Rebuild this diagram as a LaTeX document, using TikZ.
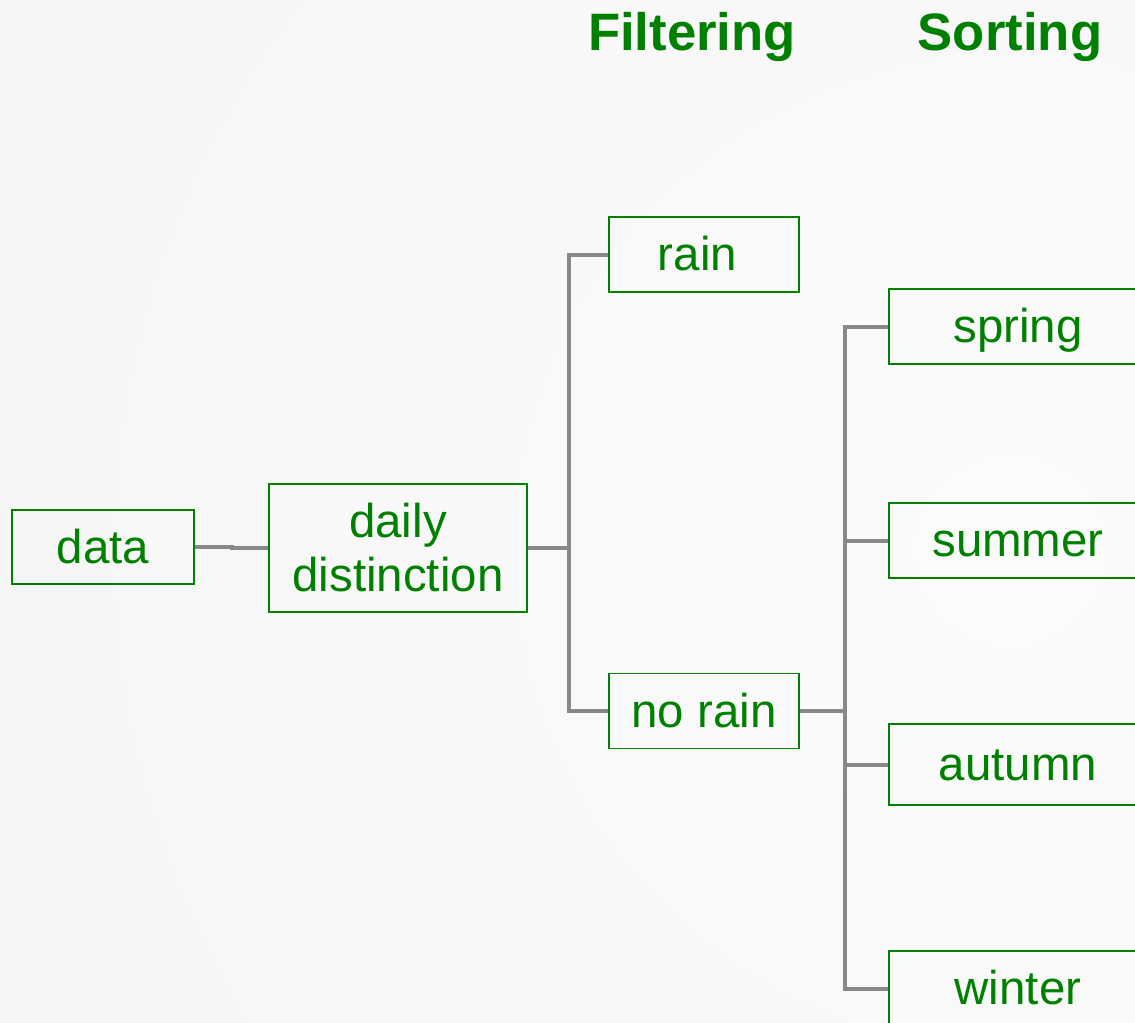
\documentclass[tikz,border=0pt]{standalone}
\usepackage{fontspec}
\setmainfont{Liberation Sans}
\definecolor{lgreen}{HTML}{008000}
\definecolor{lgray}{HTML}{888888}
\definecolor{bgin}{HTML}{FBFBFB}
\definecolor{bgout}{HTML}{F1F1F1}
\tikzset{
  box/.style={draw=lgreen, line width=0.8pt, text=lgreen, inner sep=0pt,
    font=\fontsize{35.6pt}{40.5pt}\selectfont, align=center},
  oneline/.style={text height=32.25pt, text depth=8.25pt},
  conn/.style={draw=lgray, line width=3pt},
  title/.style={text=lgreen, font=\bfseries\fontsize{39.5pt}{45pt}\selectfont,
    anchor=base, inner sep=0pt}
}
\begin{document}
\begin{tikzpicture}[x=0.75pt, y=-0.75pt]
\useasboundingbox (0,0) rectangle (1135,1022);
\clip (0,0) rectangle (1135,1022);
\shade[inner color=bgin, outer color=bgout] (1010,550) circle [radius=2000];

\node[title] (filt) at (692,50) {Filtering};
\node[title] (sort) at (1010,50) {Sorting};

\node[box, oneline, minimum width=136.5pt, minimum height=55.5pt] (data) at (103,547) {data};
\node[box, minimum width=193.5pt, minimum height=96pt] (dd) at (398,548) {daily\\distinction};
\node[box, oneline, minimum width=142.5pt, minimum height=56.25pt] (rain) at (704,254.5) {rain\hspace{0.278em}};
\node[box, oneline, minimum width=142.5pt, minimum height=56.25pt] (norain) at (704,711) {no rain};
\node[box, oneline, minimum width=193.5pt, minimum height=56.25pt] (spring) at (1018,326.5) {spring};
\node[box, oneline, minimum width=193.5pt, minimum height=56.25pt] (summer) at (1018,540.5) {summer};
\node[box, oneline, minimum width=193.5pt, minimum height=60.75pt] (autumn) at (1018,764.5) {autumn};
\node[box, oneline, minimum width=193.5pt, minimum height=56.25pt] (winter) at (1018,988.5) {winter};

\draw[conn] (data.east) -- ++(37,0) |- (dd.west);
\draw[conn] (dd.east) -- ++(41,0) coordinate (j1);
\draw[conn] (j1) |- (rain.west);
\draw[conn] (j1) |- (norain.west);
\draw[conn] (norain.east) -- ++(45,0) coordinate (j2);
\draw[conn] (j2) |- (spring.west);
\draw[conn] (j2) |- (summer.west);
\draw[conn] (j2) |- (autumn.west);
\draw[conn] (j2) |- (winter.west);
\end{tikzpicture}
\end{document}
